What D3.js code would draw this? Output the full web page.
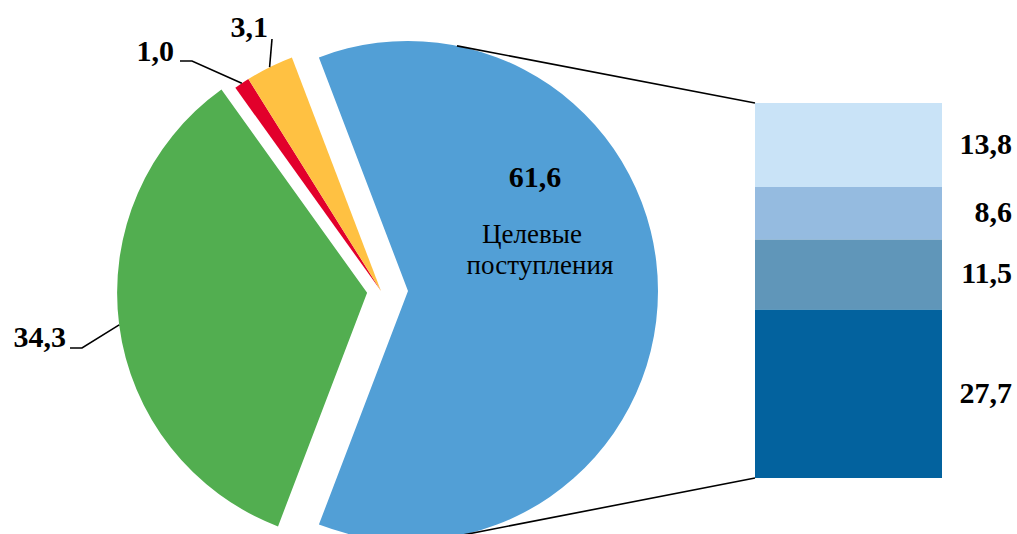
<!DOCTYPE html>
<html>
<head>
<meta charset="utf-8">
<style>
    body { margin: 0; background: #fff; }
    svg text { font-family: "Times New Roman", "Liberation Serif", Tinos, serif; fill: #000; }
</style>
</head>
<body>
    <script src="https://d3js.org/d3.v7.min.js"></script>
    <script>
        // pie: share of receipts, %
        const pieLabels = ['Целевые поступления', 'green', 'red', 'yellow']
        const pieValues = [61.6, 34.3, 1.0, 3.1]
        const pieText = ['61,6', '34,3', '1,0', '3,1']
        const pieColors = ['#529fd6', '#52ae50', '#e2002b', '#ffc142']

        // bar: breakdown of the 61,6 slice, bottom to top
        const barValues = [27.7, 11.5, 8.6, 13.8]
        const barText = ['27,7', '11,5', '8,6', '13,8']
        const barColors = ['#03629e', '#6096b9', '#95bbe0', '#c9e3f7']

        const w = 1017
        const h = 534
        const cx = 381
        const cy = 291
        const r = 250

        const svg = d3.select('body')
                    .append('svg')
                    .attr('width', w)
                    .attr('height', h)

        const toRad = d => d * Math.PI / 180
        const total = d3.sum(pieValues)
        const spanBlue = 360 * pieValues[0] / total

        // blue slice centered on the right side, others follow clockwise
        const pie = d3.pie()
                    .sort(null)
                    .startAngle(toRad(90 - spanBlue / 2))
                    .endAngle(toRad(450 - spanBlue / 2))
        const arcs = pie(pieValues)

        const arc = d3.arc().innerRadius(0).outerRadius(r)
        const explode = [27, 14, 0, 0]

        const offset = (d, i) => {
            const a = (d.startAngle + d.endAngle) / 2
            return [explode[i] * Math.sin(a), -explode[i] * Math.cos(a)]
        }

        svg.selectAll('path.slice')
            .data(arcs)
            .enter()
            .append('path')
            .attr('class', 'slice')
            .attr('d', arc)
            .attr('fill', (d, i) => pieColors[i])
            .attr('transform', (d, i) => {
                const o = offset(d, i)
                return 'translate(' + (cx + o[0]) + ',' + (cy + o[1]) + ')'
            })

        // bar of the exploded slice
        const barX = 755
        const barW = 187
        const yScale = d3.scaleLinear()
                        .domain([0, d3.sum(barValues)])
                        .range([478, 103])
        const stacked = d3.cumsum(barValues)

        svg.selectAll('rect.bar')
            .data(barValues)
            .enter()
            .append('rect')
            .attr('class', 'bar')
            .attr('x', barX)
            .attr('width', barW)
            .attr('y', (d, i) => yScale(stacked[i]))
            .attr('height', d => yScale(0) - yScale(d))
            .attr('fill', (d, i) => barColors[i])

        svg.selectAll('text.barlabel')
            .data(barValues)
            .enter()
            .append('text')
            .attr('class', 'barlabel')
            .attr('x', 1012)
            .attr('y', (d, i) => yScale(stacked[i] - d / 2) + 9)
            .attr('text-anchor', 'end')
            .attr('font-size', 30)
            .attr('font-weight', 'bold')
            .text((d, i) => barText[i])

        // connector lines from blue slice to bar
        const blueC = [cx + offset(arcs[0], 0)[0], cy + offset(arcs[0], 0)[1]]
        const conn = [[11.3, yScale(d3.sum(barValues))], [168, yScale(0)]]
        svg.selectAll('line.conn')
            .data(conn)
            .enter()
            .append('line')
            .attr('class', 'conn')
            .attr('x1', d => blueC[0] + r * Math.sin(toRad(d[0])))
            .attr('y1', d => blueC[1] - r * Math.cos(toRad(d[0])))
            .attr('x2', barX)
            .attr('y2', d => d[1])
            .attr('stroke', '#000')
            .attr('stroke-width', 1.6)

        // label inside the big slice
        const inner = svg.append('g').attr('text-anchor', 'middle')
        inner.append('text')
            .attr('x', 535)
            .attr('y', 187)
            .attr('font-size', 30)
            .attr('font-weight', 'bold')
            .text(pieText[0])
        inner.append('text')
            .attr('x', 532)
            .attr('y', 243)
            .attr('font-size', 27)
            .text('Целевые')
        inner.append('text')
            .attr('x', 540)
            .attr('y', 274)
            .attr('font-size', 27)
            .text('поступления')

        // outside labels with leader lines
        const outside = [
            { i: 1, pos: [66, 347], knee: [[70, 348], [82, 348]] },
            { i: 2, pos: [174, 61], knee: [[180, 61], [192, 61]] },
            { i: 3, pos: [268, 37], knee: [[272, 39]] }
        ]

        outside.forEach(o => {
            const d = arcs[o.i]
            const a = (d.startAngle + d.endAngle) / 2
            const off = offset(d, o.i)
            const edge = [cx + off[0] + r * Math.sin(a), cy + off[1] - r * Math.cos(a)]
            svg.append('path')
                .attr('d', d3.line()(o.knee.concat([edge])))
                .attr('fill', 'none')
                .attr('stroke', '#000')
                .attr('stroke-width', 1.6)
            svg.append('text')
                .attr('x', o.pos[0])
                .attr('y', o.pos[1])
                .attr('text-anchor', 'end')
                .attr('font-size', 30)
                .attr('font-weight', 'bold')
                .text(pieText[o.i])
        })
    </script>
</body>
</html>
